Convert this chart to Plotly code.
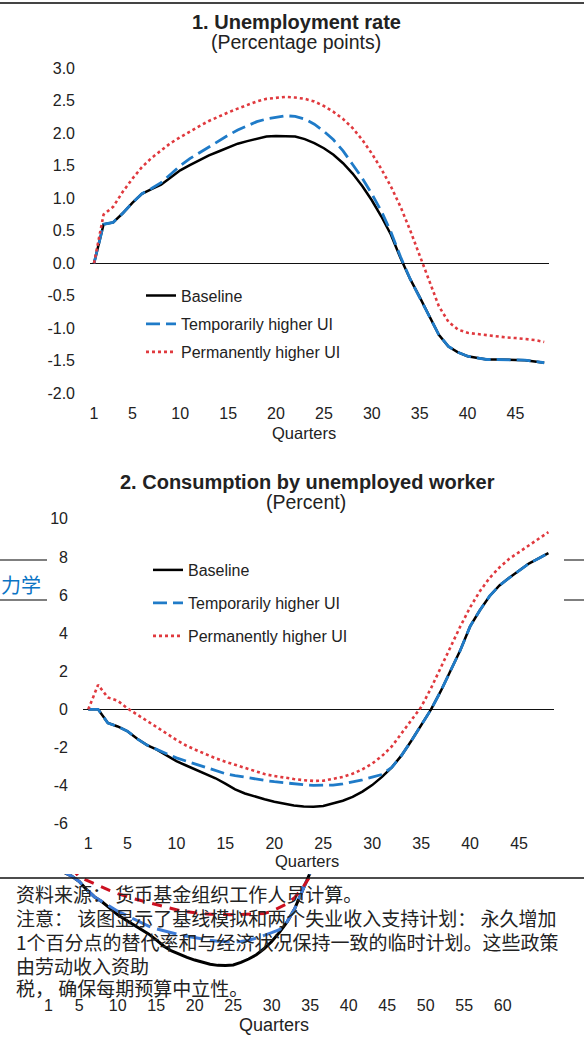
import plotly.graph_objects as go

W, H = 584, 1046

quarters = list(range(1, 49))

# 1. Unemployment rate (percentage points)
unemp_baseline = [0, 0.60, 0.63, 0.77, 0.93, 1.07, 1.14, 1.21, 1.32, 1.43,
                  1.51, 1.59, 1.66, 1.72, 1.78, 1.84, 1.88, 1.92, 1.95, 1.96,
                  1.96, 1.95, 1.91, 1.85, 1.77, 1.67, 1.54, 1.38, 1.19, 0.97,
                  0.72, 0.44, 0.08, -0.24, -0.52, -0.82, -1.10, -1.28, -1.37, -1.43,
                  -1.46, -1.48, -1.48, -1.48, -1.49, -1.49, -1.51, -1.53]
unemp_temporary = [0, 0.60, 0.63, 0.77, 0.93, 1.07, 1.15, 1.24, 1.37, 1.50,
                   1.61, 1.70, 1.80, 1.89, 1.97, 2.05, 2.12, 2.18, 2.22, 2.25,
                   2.27, 2.26, 2.22, 2.14, 2.03, 1.90, 1.73, 1.52, 1.31, 1.07,
                   0.80, 0.48, 0.10, -0.24, -0.52, -0.82, -1.10, -1.28, -1.37, -1.43,
                   -1.46, -1.48, -1.48, -1.48, -1.49, -1.49, -1.51, -1.53]
unemp_permanent = [0, 0.75, 0.87, 1.10, 1.30, 1.48, 1.62, 1.74, 1.85, 1.94,
                   2.03, 2.11, 2.19, 2.26, 2.32, 2.38, 2.44, 2.49, 2.53, 2.55,
                   2.56, 2.55, 2.53, 2.49, 2.42, 2.33, 2.22, 2.08, 1.90, 1.69,
                   1.45, 1.18, 0.87, 0.51, 0.12, -0.30, -0.66, -0.90, -1.02, -1.07,
                   -1.09, -1.10, -1.12, -1.14, -1.15, -1.16, -1.18, -1.21]

# 2. Consumption by unemployed worker (percent)
cons_baseline = [0, 0, -0.72, -0.90, -1.15, -1.55, -1.88, -2.12, -2.42, -2.72,
                 -2.95, -3.18, -3.40, -3.62, -3.90, -4.20, -4.42, -4.58, -4.72, -4.85,
                 -4.95, -5.05, -5.10, -5.11, -5.08, -4.96, -4.80, -4.60, -4.32, -3.98,
                 -3.55, -3.05, -2.42, -1.65, -0.85, -0.02, 0.95, 2.00, 3.10, 4.35,
                 5.20, 5.95, 6.50, 6.90, 7.30, 7.65, 7.92, 8.20]
cons_temporary = [0, 0, -0.72, -0.90, -1.15, -1.55, -1.88, -2.12, -2.33, -2.55,
                  -2.72, -2.90, -3.08, -3.25, -3.38, -3.48, -3.57, -3.66, -3.73, -3.80,
                  -3.86, -3.92, -3.96, -3.99, -4.00, -3.98, -3.92, -3.82, -3.70, -3.56,
                  -3.42, -3.05, -2.42, -1.65, -0.85, -0.02, 0.95, 2.00, 3.10, 4.35,
                  5.20, 5.95, 6.50, 6.90, 7.30, 7.65, 7.92, 8.20]
cons_permanent = [0, 1.28, 0.62, 0.45, 0.05, -0.27, -0.60, -0.93, -1.27, -1.61,
                  -1.90, -2.14, -2.37, -2.57, -2.75, -2.92, -3.10, -3.27, -3.40, -3.50,
                  -3.60, -3.66, -3.72, -3.76, -3.75, -3.67, -3.55, -3.38, -3.15, -2.85,
                  -2.45, -1.95, -1.28, -0.60, 0.12, 1.10, 2.20, 3.30, 4.35, 5.35,
                  6.20, 6.90, 7.45, 7.90, 8.25, 8.60, 8.95, 9.30]

# chart peeking out behind the page (only its lower part is visible)
bg_quarters = list(range(1, 37))
bg_permanent = [0, 0.40, -0.10, -0.50, -0.94, -1.10, -1.27, -1.43, -1.58, -1.72,
                -1.85, -1.96, -2.05, -2.15, -2.25, -2.35, -2.44, -2.52, -2.58, -2.63,
                -2.66, -2.69, -2.71, -2.72, -2.72, -2.71, -2.70, -2.69, -2.66, -2.55,
                -2.38, -2.20, -1.90, -1.45, -0.90, -0.20]

series_names = ["Baseline", "Temporarily higher UI", "Permanently higher UI"]

x_ticks = [1, 5, 10, 15, 20, 25, 30, 35, 40, 45]
y1_ticks = [-2.0, -1.5, -1.0, -0.5, 0.0, 0.5, 1.0, 1.5, 2.0, 2.5, 3.0]
y1_labels = ["-2.0", "-1.5", "-1.0", "-0.5", "0.0", "0.5", "1.0", "1.5", "2.0", "2.5", "3.0"]
y2_ticks = [-6, -4, -2, 0, 2, 4, 6, 8, 10]
y2_labels = ["-6", "-4", "-2", "0", "2", "4", "6", "8", "10"]
bg_x_ticks = [1, 5, 10, 15, 20, 25, 30, 35, 40, 45, 50, 55, 60]
bg_y_ticks = [-6, -4, -2, 0, 2, 4, 6, 8, 10]
bg_y_labels = ["-6", "-4", "-2", "0", "2", "4", "6", "8", "10"]

note_lines = [
    "资料来源： 货币基金组织工作人员计算。",
    "注意： 该图显示了基线模拟和两个失业收入支持计划： 永久增加",
    "1个百分点的替代率和与经济状况保持一致的临时计划。这些政策",
    "由劳动收入资助",
    "税， 确保每期预算中立性。",
]

FONT = "Liberation Sans, Arial, sans-serif"
CJK = "Noto Sans CJK SC, sans-serif"
BLACK = "#000000"
BLUE = "#1f7bc8"
RED = "#e0393e"


def px(x):
    return x / W


def py(y):
    return 1 - y / H


fig = go.Figure()

styles = [
    dict(color=BLACK, width=2.5),
    dict(color=BLUE, width=2.8, dash="14px,6px"),
    dict(color=RED, width=2.6, dash="dot"),
]

# chart 1
for i, (name, vals) in enumerate(zip(series_names, [unemp_baseline, unemp_temporary, unemp_permanent])):
    fig.add_trace(go.Scatter(x=quarters, y=vals, name=name, mode="lines", line=styles[i],
                             xaxis="x", yaxis="y", legend="legend" if i == 0 else f"legend{i + 1}"))

# chart 2
for i, (name, vals) in enumerate(zip(series_names, [cons_baseline, cons_temporary, cons_permanent])):
    fig.add_trace(go.Scatter(x=quarters, y=vals, name=name, mode="lines", line=styles[i],
                             xaxis="x2", yaxis="y2", legend=f"legend{i + 4}"))

# background chart
fig.add_trace(go.Scatter(x=quarters, y=cons_baseline, mode="lines", showlegend=False,
                         line=dict(color=BLACK, width=3), xaxis="x3", yaxis="y3"))
fig.add_trace(go.Scatter(x=quarters, y=cons_temporary, mode="lines", showlegend=False,
                         line=dict(color="#3d7bd6", width=3, dash="20px,7px"), xaxis="x3", yaxis="y3"))
fig.add_trace(go.Scatter(x=bg_quarters, y=bg_permanent, mode="lines", showlegend=False,
                         line=dict(color="#cc1020", width=3, dash="10px,8px"), xaxis="x3", yaxis="y3"))

tick_font = dict(family=FONT, size=16, color="#222")
common_x = dict(showgrid=False, zeroline=False, showline=False, ticks="", tickfont=tick_font,
                automargin=False)
common_y = dict(showgrid=False, showline=False, ticks="", tickfont=tick_font, automargin=False)

legend_base = dict(bgcolor="rgba(0,0,0,0)", borderwidth=0, itemwidth=30,
                   font=dict(family=FONT, size=16, color="#222"),
                   xanchor="left", yanchor="middle", xref="paper", yref="paper")
legend_pos = [(141, 295.5), (141, 324), (141, 352), (148, 570), (148, 603), (148, 636)]
legends = {}
for i, (lx, ly) in enumerate(legend_pos):
    key = "legend" if i == 0 else f"legend{i + 1}"
    legends[key] = dict(legend_base, x=px(lx), y=py(ly))

fig.update_layout(
    width=W, height=H, autosize=False,
    margin=dict(l=0, r=0, t=0, b=0, pad=0, autoexpand=False),
    paper_bgcolor="white", plot_bgcolor="rgba(0,0,0,0)",
    font=dict(family=FONT, color="#222"),
    xaxis=dict(common_x, domain=[px(90), px(549)], range=[0.58, 48.5],
               tickvals=x_ticks, ticklabelstandoff=9, anchor="y"),
    yaxis=dict(common_y, domain=[py(393.3), py(68.3)], range=[-2.0, 3.0],
               tickvals=y1_ticks, ticktext=y1_labels, ticklabelstandoff=14,
               zeroline=True, zerolinecolor="#111", zerolinewidth=1.3, anchor="x"),
    xaxis2=dict(common_x, domain=[px(83), px(554)], range=[0.46, 48.57],
                tickvals=x_ticks, ticklabelstandoff=8, anchor="y2"),
    yaxis2=dict(common_y, domain=[py(823.6), py(518.8)], range=[-6, 10],
                tickvals=y2_ticks, ticktext=y2_labels, ticklabelstandoff=14,
                zeroline=True, zerolinecolor="#111", zerolinewidth=1.3, anchor="x2"),
    xaxis3=dict(common_x, domain=[px(43.8), px(503.5)], range=[0.4, 60.1],
                tickvals=bg_x_ticks, ticklabelstandoff=1, anchor="y3",
                tickfont=dict(family=FONT, size=16, color="#222")),
    yaxis3=dict(common_y, domain=[py(993), py(874)], range=[-6.4, -0.8],
                showticklabels=False, zeroline=False, anchor="x3"),
    yaxis4=dict(common_y, domain=[py(993), py(633.9)], range=[-6.4, 10.5],
                tickvals=bg_y_ticks, ticktext=bg_y_labels, ticklabelstandoff=12,
                zeroline=False, anchor="x3",
                tickfont=dict(family=FONT, size=15, color="#333")),
    showlegend=True,
    **legends,
)

annotations = [
    dict(x=px(296), y=py(22), text="<b>1. Unemployment rate</b>", font=dict(size=20)),
    dict(x=px(296), y=py(42), text="(Percentage points)", font=dict(size=19.5)),
    dict(x=px(304), y=py(433), text="Quarters", font=dict(size=16.5)),
    dict(x=px(307), y=py(482), text="<b>2. Consumption by unemployed worker</b>", font=dict(size=20)),
    dict(x=px(306), y=py(502), text="(Percent)", font=dict(size=19.5)),
    dict(x=px(307), y=py(861), text="Quarters", font=dict(size=16.5)),
    dict(x=px(274), y=py(1025), text="Quarters", font=dict(size=18)),
    dict(x=px(21), y=py(584), text="力学", font=dict(family=CJK, size=20, color="#0b74c4")),
]
for ann in annotations:
    ann["font"] = dict(dict(family=FONT, color="#222"), **ann["font"])
    fig.add_annotation(xref="paper", yref="paper", showarrow=False,
                       xanchor="center", yanchor="middle", **ann)

note_y = [893, 917, 941, 965, 987]
for text, ly in zip(note_lines, note_y):
    fig.add_annotation(xref="paper", yref="paper", showarrow=False, x=px(14), y=py(ly),
                       xanchor="left", yanchor="middle", text=text,
                       font=dict(family=CJK, size=19, color="#222"))

# page rules around the clipped pages
rules = [
    (0, 584, 3, "#444", 2),
    (0, 584, 878, "#111", 1.5),
    (0, 47, 560, "#555", 1.5),
    (0, 47, 600, "#555", 1.5),
    (564, 584, 560, "#555", 1.5),
    (564, 584, 600, "#555", 1.5),
]
for x0, x1, yy, c, w in rules:
    fig.add_shape(type="line", xref="paper", yref="paper", x0=px(x0), x1=px(x1),
                  y0=py(yy), y1=py(yy), line=dict(color=c, width=w))

# the page body has a default 8px margin; drop it so the figure sits at the corner
fig.write_html("out.html", config={"displayModeBar": False},
               post_script="document.body.style.margin='0';")
